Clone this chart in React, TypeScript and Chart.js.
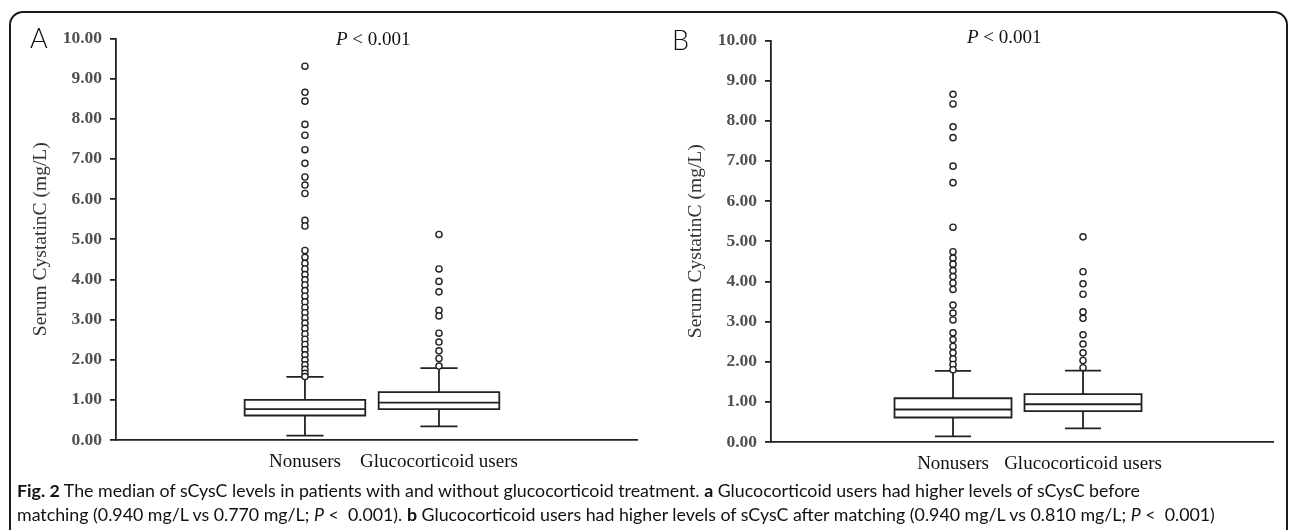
import React, { useEffect, useRef } from "react";
import { Chart, registerables } from "chart.js";

Chart.register(...registerables);

// ---------- data ----------
const groupLabels = ["Nonusers", "Glucocorticoid users"];
const groupPositions = [1, 2];
const yTickValues = [0, 1, 2, 3, 4, 5, 6, 7, 8, 9, 10];

// Panel A (before matching): [Nonusers, Glucocorticoid users]
const aQ1 = [0.61, 0.77];
const aMedian = [0.77, 0.93];
const aQ3 = [1.0, 1.19];
const aWhiskerLow = [0.11, 0.34];
const aWhiskerHigh = [1.57, 1.79];
const aOutliersNonusers = [
  9.31, 8.66, 8.44, 7.86, 7.59, 7.23, 6.89, 6.55, 6.35, 6.14, 5.47, 5.33, 4.72,
  4.55, 4.4, 4.26, 4.12, 3.99, 3.86, 3.72, 3.58, 3.44, 3.3, 3.17, 3.04, 2.91,
  2.78, 2.64, 2.51, 2.38, 2.25, 2.12, 1.99, 1.87, 1.76, 1.66, 1.58,
];
const aOutliersGluco = [5.12, 4.26, 3.95, 3.69, 3.23, 3.09, 2.66, 2.44, 2.22, 2.03, 1.84];

// Panel B (after matching)
const bQ1 = [0.61, 0.77];
const bMedian = [0.81, 0.94];
const bQ3 = [1.09, 1.19];
const bWhiskerLow = [0.14, 0.34];
const bWhiskerHigh = [1.77, 1.78];
const bOutliersNonusers = [
  8.66, 8.42, 7.85, 7.58, 6.87, 6.46, 5.35, 4.74, 4.58, 4.43, 4.27, 4.12, 3.96,
  3.8, 3.41, 3.21, 3.04, 2.72, 2.55, 2.38, 2.22, 2.07, 1.93, 1.8,
];
const bOutliersGluco = [5.11, 4.24, 3.94, 3.68, 3.24, 3.08, 2.67, 2.44, 2.22, 2.03, 1.85];

// ---------- styling ----------
const INK = "#222";
const SERIF = "'Liberation Serif', 'Times New Roman', serif";
const BOX_HALF = 0.45;
const CAP_HALF = 0.132;

type Pt = { x: number; y: number | null };

function boxPath(c: number, q1: number, med: number, q3: number, lo: number, hi: number): Pt[] {
  const gap: Pt = { x: c, y: null };
  const h = BOX_HALF;
  const k = CAP_HALF;
  return [
    { x: c - h, y: q1 }, { x: c + h, y: q1 }, { x: c + h, y: q3 }, { x: c - h, y: q3 }, { x: c - h, y: q1 },
    gap,
    { x: c - h, y: med }, { x: c + h, y: med },
    gap,
    { x: c, y: q3 }, { x: c, y: hi },
    gap,
    { x: c - k, y: hi }, { x: c + k, y: hi },
    gap,
    { x: c, y: q1 }, { x: c, y: lo },
    gap,
    { x: c - k, y: lo }, { x: c + k, y: lo },
  ];
}

type PanelData = {
  q1: number[];
  med: number[];
  q3: number[];
  lo: number[];
  hi: number[];
  outliers: number[][];
  xMin: number;
  xMax: number;
  padRight: number;
};

function makeConfig(p: PanelData): any {
  const boxSets = groupPositions.map((c, i) => ({
    label: groupLabels[i] + " box",
    data: boxPath(c, p.q1[i], p.med[i], p.q3[i], p.lo[i], p.hi[i]),
    showLine: true,
    spanGaps: false,
    borderColor: INK,
    borderWidth: 1.8,
    borderCapStyle: "square",
    borderJoinStyle: "miter",
    pointRadius: 0,
    pointHoverRadius: 0,
    fill: false,
    order: 2,
  }));
  const outSets = groupPositions.map((c, i) => ({
    label: groupLabels[i] + " outliers",
    data: p.outliers[i].map((v) => ({ x: c, y: v })),
    showLine: false,
    pointStyle: "circle",
    pointRadius: 3.1,
    pointBorderWidth: 1.4,
    pointBorderColor: INK,
    pointBackgroundColor: "#fff",
    borderColor: INK,
    backgroundColor: "#fff",
    order: 1,
  }));
  return {
    type: "scatter",
    data: { datasets: [...boxSets, ...outSets] },
    options: {
      animation: false,
      responsive: false,
      events: [],
      layout: { padding: { top: 13, right: p.padRight, left: 0, bottom: 0 } },
      plugins: { legend: { display: false }, tooltip: { enabled: false } },
      scales: {
        x: {
          type: "linear",
          min: p.xMin,
          max: p.xMax,
          afterBuildTicks: (s: any) => {
            s.ticks = groupPositions.map((v) => ({ value: v }));
          },
          ticks: {
            callback: (_v: any, idx: number) => groupLabels[idx],
            autoSkip: false,
            maxRotation: 0,
            minRotation: 0,
            padding: 11,
            color: "#111",
            font: { family: SERIF, size: 19 },
          },
          grid: { display: true, drawOnChartArea: false, drawTicks: false, color: INK, lineWidth: 0 },
          border: { display: true, color: INK, width: 1.8 },
          afterFit: (s: any) => {
            s.height = 40;
          },
        },
        y: {
          type: "linear",
          min: 0,
          max: 10,
          afterBuildTicks: (s: any) => {
            s.ticks = yTickValues.map((v) => ({ value: v }));
          },
          ticks: {
            callback: (v: any) => Number(v).toFixed(2),
            padding: 8,
            color: "#505050",
            font: { family: SERIF, size: 17.5, weight: "bold" },
          },
          grid: { drawOnChartArea: false, drawTicks: true, tickLength: 6, color: INK, lineWidth: 1.8 },
          border: { display: true, color: INK, width: 1.8 },
          title: {
            display: true,
            text: "Serum CystatinC (mg/L)",
            color: "#333",
            font: { family: SERIF, size: 19.5 },
            padding: { top: 9, bottom: 0 },
          },
          afterFit: (s: any) => {
            s.width = 96;
          },
        },
      },
    },
  };
}

const panelA: PanelData = {
  q1: aQ1, med: aMedian, q3: aQ3, lo: aWhiskerLow, hi: aWhiskerHigh,
  outliers: [aOutliersNonusers, aOutliersGluco],
  xMin: -0.41, xMax: 3.485, padRight: 12,
};
const panelB: PanelData = {
  q1: bQ1, med: bMedian, q3: bQ3, lo: bWhiskerLow, hi: bWhiskerHigh,
  outliers: [bOutliersNonusers, bOutliersGluco],
  xMin: -0.4, xMax: 3.469, padRight: 11,
};

function Panel({ data, left, top, width, height }: { data: PanelData; left: number; top: number; width: number; height: number }) {
  const ref = useRef<HTMLCanvasElement | null>(null);
  useEffect(() => {
    if (!ref.current) return;
    const chart = new Chart(ref.current, makeConfig(data));
    return () => chart.destroy();
  }, [data]);
  return (
    <canvas
      ref={ref}
      width={width}
      height={height}
      style={{ position: "absolute", left, top, width, height, display: "block" }}
    />
  );
}

const pStyle: React.CSSProperties = {
  position: "absolute",
  fontFamily: SERIF,
  fontSize: 19,
  lineHeight: "20px",
  color: "#111",
  whiteSpace: "nowrap",
};
const letterStyle: React.CSSProperties = {
  position: "absolute",
  fontFamily: "Lato, 'Open Sans', sans-serif",
  fontWeight: 300,
  fontSize: 27,
  lineHeight: "27px",
  color: "#111",
};
const capStyle: React.CSSProperties = {
  position: "absolute",
  left: 17,
  fontFamily: "Lato, 'Open Sans', sans-serif",
  fontSize: 17.8,
  lineHeight: "22px",
  color: "#111",
  whiteSpace: "nowrap",
};

export default function App() {
  return (
    <div style={{ position: "absolute", left: 0, top: 0, width: 1292, height: 530, overflow: "hidden", background: "#fff" }}>
      <div
        style={{
          position: "absolute",
          left: 9,
          top: 11,
          width: 1279,
          height: 560,
          border: "2px solid #1a1a1a",
          borderRadius: 14,
          boxSizing: "border-box",
        }}
      />
      <Panel data={panelA} left={20} top={20} width={630} height={460} />
      <Panel data={panelB} left={675} top={22} width={610} height={460} />
      <div style={{ ...letterStyle, left: 30, top: 24 }}>A</div>
      <div style={{ ...letterStyle, left: 672, top: 26 }}>B</div>
      <div style={{ ...pStyle, left: 336, top: 29 }}>
        <span style={{ fontStyle: "italic" }}>P</span> &lt; 0.001
      </div>
      <div style={{ ...pStyle, left: 967, top: 27 }}>
        <span style={{ fontStyle: "italic" }}>P</span> &lt; 0.001
      </div>
      <div style={{ ...capStyle, top: 479 }}>
        <b>Fig. 2</b> The median of sCysC levels in patients with and without glucocorticoid treatment. <b>a</b> Glucocorticoid users had higher levels of sCysC before
      </div>
      <div style={{ ...capStyle, top: 503 }}>
        matching (0.940 mg/L vs 0.770 mg/L; <i>P</i> &lt;&nbsp; 0.001). <b>b</b> Glucocorticoid users had higher levels of sCysC after matching (0.940 mg/L vs 0.810 mg/L; <i>P</i> &lt;&nbsp; 0.001)
      </div>
    </div>
  );
}
